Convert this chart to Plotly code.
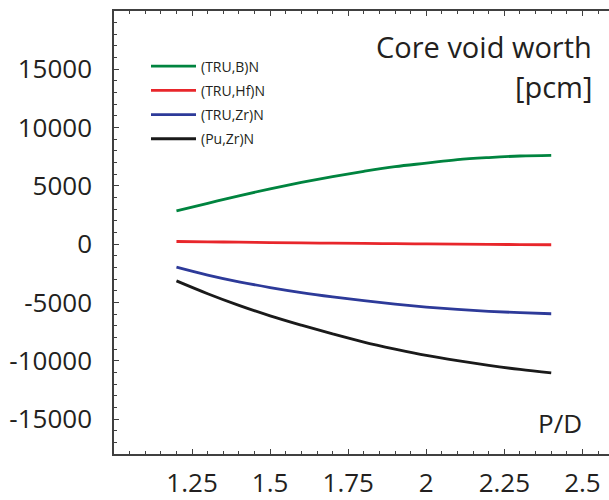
import plotly.graph_objects as go

# P/D ratio sample points
pd_ratio = [1.2, 1.3, 1.4, 1.5, 1.6, 1.7, 1.8, 1.9, 2.0, 2.1, 2.2, 2.3, 2.4]

# Core void worth [pcm] for each fuel type
tru_b = [2850, 3500, 4150, 4750, 5300, 5800, 6250, 6650, 6950, 7250, 7430, 7560, 7620]
tru_hf = [230, 200, 170, 140, 110, 85, 60, 40, 20, 0, -20, -35, -50]
tru_zr = [-1970, -2650, -3230, -3720, -4150, -4520, -4850, -5150, -5400, -5600, -5760, -5880, -5970]
pu_zr = [-3150, -4250, -5250, -6150, -6950, -7700, -8400, -9000, -9550, -10000, -10400, -10750, -11050]

series_names = ["(TRU,B)N", "(TRU,Hf)N", "(TRU,Zr)N", "(Pu,Zr)N"]
series_values = [tru_b, tru_hf, tru_zr, pu_zr]
series_colors = ["#00843f", "#e8262b", "#2d3a99", "#1a1a1a"]

x_tick_vals = [1.25, 1.5, 1.75, 2.0, 2.25, 2.5]
x_tick_text = ["1.25", "1.5", "1.75", "2", "2.25", "2.5"]
y_tick_vals = [-15000, -10000, -5000, 0, 5000, 10000, 15000]
y_tick_text = ["-15000", "-10000", "-5000", "0", "5000", "10000", "15000"]

FONT = "Open Sans"
TEXT = "#231f20"
AXIS = "#404040"

fig = go.Figure()
for name, vals, col in zip(series_names, series_values, series_colors):
    fig.add_trace(go.Scatter(
        x=pd_ratio, y=vals, mode="lines", name=name, legendgroup=name,
        line=dict(color=col, width=2.8, shape="spline", smoothing=1.0),
    ))

fig.update_layout(
    width=609, height=500,
    margin=dict(l=114, r=0, t=11, b=41),
    paper_bgcolor="white", plot_bgcolor="white",
    font=dict(family=FONT, color=TEXT),
    showlegend=True,
    legend=dict(
        x=(146 - 114) / 495, y=(459 - 51) / 448, xanchor="left", yanchor="top",
        bgcolor="rgba(0,0,0,0)", borderwidth=0,
        font=dict(family=FONT, size=14, color=TEXT),
        traceorder="grouped", tracegroupgap=3, itemwidth=45,
    ),
    xaxis=dict(
        range=[1.0, 2.585], showgrid=False, zeroline=False,
        showline=True, linecolor=AXIS, linewidth=1.5, mirror="allticks",
        ticks="inside", ticklen=5, tickwidth=1, tickcolor=AXIS,
        tickvals=x_tick_vals, ticktext=x_tick_text,
        tickfont=dict(family=FONT, size=26, color=TEXT),
        ticklabelstandoff=5,
        minor=dict(dtick=0.05, tick0=1.0, ticks="inside", ticklen=3, tickcolor=AXIS, tickwidth=1),
    ),
    yaxis=dict(
        range=[-18000, 20000], showgrid=False, zeroline=False,
        showline=True, linecolor=AXIS, linewidth=1.5,
        ticks="inside", ticklen=5, tickwidth=1, tickcolor=AXIS,
        tickvals=y_tick_vals, ticktext=y_tick_text,
        tickfont=dict(family=FONT, size=26, color=TEXT),
        ticklabelstandoff=15,
        minor=dict(dtick=1000, tick0=0, ticks="inside", ticklen=3, tickcolor=AXIS, tickwidth=1),
    ),
    annotations=[
        dict(text="Core void worth", xref="paper", yref="paper",
             x=(594 - 114) / 495, y=(459 - 47) / 448, xanchor="right", yanchor="middle",
             showarrow=False, font=dict(family=FONT, size=29, color=TEXT)),
        dict(text="[pcm]", xref="paper", yref="paper",
             x=(594 - 114) / 495, y=(459 - 87) / 448, xanchor="right", yanchor="middle",
             showarrow=False, font=dict(family=FONT, size=29, color=TEXT)),
        dict(text="P/D", xref="paper", yref="paper",
             x=(560 - 114) / 495, y=(459 - 428) / 448, xanchor="center", yanchor="middle",
             showarrow=False, font=dict(family=FONT, size=26, color=TEXT)),
    ],
)

fig.write_html("out.html")
